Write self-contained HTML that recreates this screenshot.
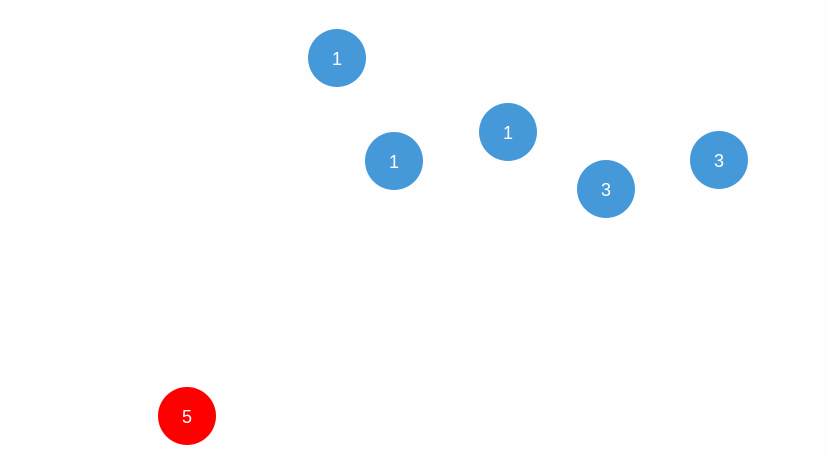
<!DOCTYPE html>
<html><head><style>
html,body{margin:0;padding:0;background:#fefefe;}
body{width:828px;height:459px;position:relative;overflow:hidden;font-family:"Liberation Sans","Noto Sans CJK SC",sans-serif;}
.c{position:absolute;width:58px;height:58px;border-radius:50%;background:#4599d9;color:#fff;font-size:18px;line-height:60px;text-align:center;}
.r{background:#ff0000;}
</style></head><body>
<div class="c" style="left:308px;top:29px">1</div>
<div class="c" style="left:365px;top:132px">1</div>
<div class="c" style="left:479px;top:103px">1</div>
<div class="c" style="left:577px;top:160px">3</div>
<div class="c" style="left:690px;top:131px">3</div>
<div class="c r" style="left:158px;top:387px">5</div>
</body></html>
